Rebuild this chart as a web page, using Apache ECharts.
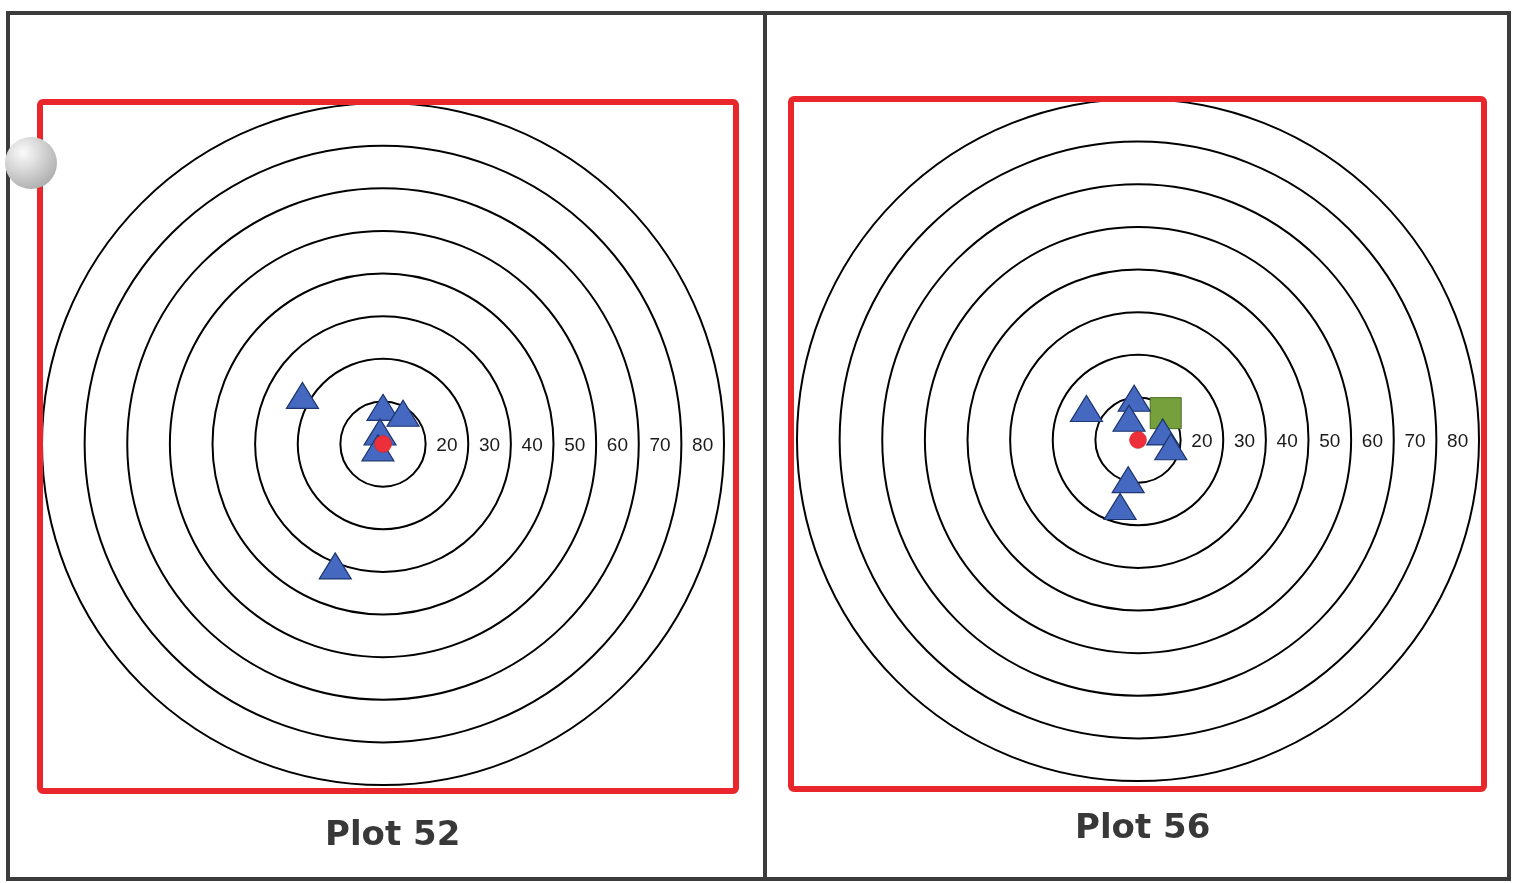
<!DOCTYPE html>
<html>
<head>
<meta charset="utf-8">
<script src="https://cdn.jsdelivr.net/npm/echarts@6/dist/echarts.min.js"></script>
<style>
  html,body{margin:0;padding:0;background:#fff}
  #c{width:1520px;height:883px}
</style>
</head>
<body>
<div id="c"></div>
<script>
// 两个靶图:同心圆(半径 10..80)+ 命中点

const ringLabels = [20, 30, 40, 50, 60, 70, 80]
const titles = ['Plot 52', 'Plot 56']

// 靶心(红点)
const centers = [[0, 0], [0, 0]]
// 蓝色三角(x, y 单位与环半径相同)
const tri52 = [[-18.9, 11.4], [0, 8.6], [4.7, 7.2], [-0.7, 2.8], [-1.2, -0.9], [-11.2, -28.6]]
const tri56 = [[-12.1, 7.4], [-0.9, 9.8], [-2.1, 5.1], [5.8, 1.9], [7.7, -1.6], [-2.3, -9.3], [-4.2, -15.6]]
// 绿色方块
const sq52 = []
const sq56 = [[6.5, 6.3]]

const panels = [
  { cx: 383, cy: 444, tri: tri52, sq: sq52, title: titles[0], tx: 320, ty: 814 },
  { cx: 1138, cy: 440, tri: tri56, sq: sq56, title: titles[1], tx: 1070, ty: 807 }
]
const R = 341

const chart = echarts.init(document.getElementById('c'))

const polar = [], radiusAxis = [], angleAxis = [], grid = [], xAxis = [], yAxis = [], series = [], title = []
panels.forEach((p, i) => {
  polar.push({ center: [p.cx, p.cy], radius: R })
  radiusAxis.push({
    polarIndex: i, min: 0, max: 80, interval: 10,
    axisLine: { show: false }, axisTick: { show: false }, axisLabel: { show: false },
    splitLine: { show: true, lineStyle: { color: '#000', width: 2 } }
  })
  angleAxis.push({ polarIndex: i, show: false, splitLine: { show: false }, axisLine: { show: false } })
  grid.push({ left: p.cx - R, top: p.cy - R, width: 2 * R, height: 2 * R })
  xAxis.push({ gridIndex: i, type: 'value', min: -80, max: 80, show: false })
  yAxis.push({ gridIndex: i, type: 'value', min: -80, max: 80, show: false })
  title.push({ text: p.title, left: p.tx, top: p.ty,
    textStyle: { fontFamily: 'DejaVu Sans', fontWeight: 'bold', fontSize: 34, color: '#383838' } })

  // 环标签:放在两环之间
  series.push({
    type: 'scatter', xAxisIndex: i, yAxisIndex: i, symbolSize: 0, silent: true,
    itemStyle: { opacity: 1 },
    data: ringLabels.map(v => [v - 5, -0.4, v]),
    label: { show: true, position: 'inside', formatter: d => d.value[2],
      fontFamily: 'Liberation Sans', fontSize: 19, color: '#1a1a1a' }
  })
  series.push({
    type: 'scatter', xAxisIndex: i, yAxisIndex: i, symbol: 'rect', symbolSize: 31, z: 2,
    itemStyle: { color: '#76a03c', borderColor: '#4b6a25', borderWidth: 1, opacity: 1 },
    data: p.sq
  })
  series.push({
    type: 'scatter', xAxisIndex: i, yAxisIndex: i, symbol: 'triangle', symbolSize: [32, 26], z: 4,
    itemStyle: { color: '#4569c0', borderColor: '#1d3670', borderWidth: 1.2, opacity: 1 },
    data: p.tri
  })
  series.push({
    type: 'scatter', xAxisIndex: i, yAxisIndex: i, symbol: 'circle', symbolSize: 17, z: 5,
    itemStyle: { color: '#ec2f38', borderColor: '#c02025', borderWidth: 0.5, opacity: 1 },
    data: [centers[i]]
  })
})

chart.setOption({
  backgroundColor: '#fff',
  animation: false,
  title, polar, radiusAxis, angleAxis, grid, xAxis, yAxis, series,
  graphic: [
    { type: 'rect', shape: { x: 8, y: 13, width: 1501, height: 866 },
      style: { fill: 'none', stroke: '#3b3b3b', lineWidth: 4 }, z: 10 },
    { type: 'line', shape: { x1: 765, y1: 13, x2: 765, y2: 879 },
      style: { stroke: '#3b3b3b', lineWidth: 4 }, z: 10 },
    { type: 'rect', shape: { x: 40, y: 102, width: 696, height: 689, r: 3 },
      style: { fill: 'none', stroke: '#e8262b', lineWidth: 6 }, z: 10 },
    { type: 'rect', shape: { x: 791, y: 99, width: 693, height: 690, r: 3 },
      style: { fill: 'none', stroke: '#e8262b', lineWidth: 6 }, z: 10 },
    { type: 'circle', shape: { cx: 31, cy: 163, r: 26 }, z: 11,
      style: { fill: new echarts.graphic.RadialGradient(0.35, 0.3, 0.8, [
        { offset: 0, color: '#fbfbfb' }, { offset: 1, color: '#a9a9a9' }]) } }
  ]
})
</script>
</body>
</html>
